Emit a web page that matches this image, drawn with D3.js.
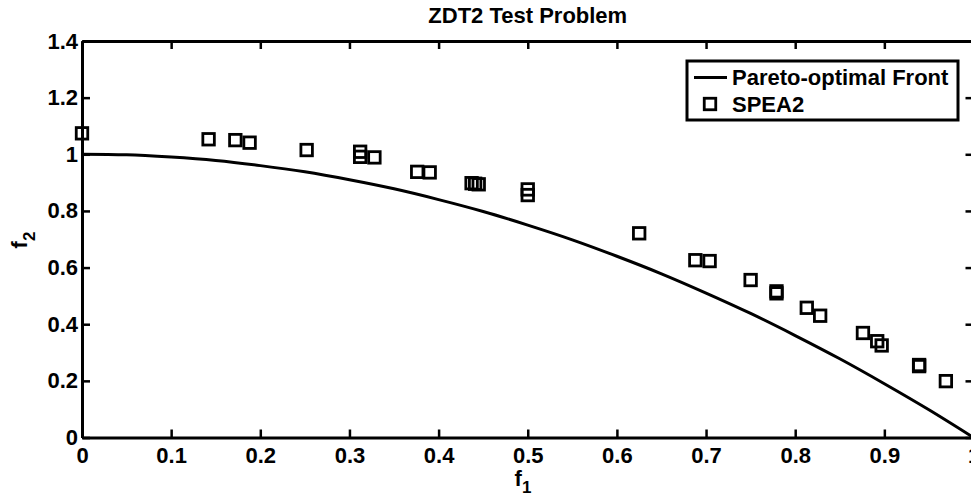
<!DOCTYPE html>
<html>
<head>
<meta charset="utf-8">
<script src="https://cdn.jsdelivr.net/npm/d3@7"></script>
<style>
  body { margin: 0; background: #fff; }
  svg text { font-family: "Liberation Sans", Arial, sans-serif; font-weight: bold; fill: #000; }
</style>
</head>
<body>
<svg id="chart" width="971" height="496"></svg>
<script>
// ZDT2 test problem
var frontF1 = [0, 0.05, 0.1, 0.15, 0.2, 0.25, 0.3, 0.35, 0.4, 0.45, 0.5,
               0.55, 0.6, 0.65, 0.7, 0.75, 0.8, 0.85, 0.9, 0.95, 1];
var frontF2 = [1.00, 0.998, 0.99, 0.978, 0.96, 0.938, 0.91, 0.878, 0.84, 0.798, 0.75,
               0.698, 0.64, 0.578, 0.51, 0.438, 0.36, 0.278, 0.19, 0.098, 0.00];

// SPEA2 solutions
var speaF1 = [0, 0.142, 0.172, 0.188, 0.252, 0.312, 0.312, 0.328, 0.376, 0.390,
              0.437, 0.441, 0.445, 0.500, 0.500, 0.625, 0.688, 0.704, 0.750,
              0.779, 0.779, 0.813, 0.828, 0.876, 0.892, 0.897, 0.939, 0.939, 0.969];
var speaF2 = [1.074, 1.053, 1.050, 1.041, 1.015, 1.009, 0.991, 0.989, 0.938, 0.936,
              0.898, 0.896, 0.894, 0.876, 0.856, 0.721, 0.626, 0.623, 0.556,
              0.516, 0.509, 0.458, 0.430, 0.369, 0.340, 0.325, 0.256, 0.252, 0.199];

var xTicks = [0, 0.1, 0.2, 0.3, 0.4, 0.5, 0.6, 0.7, 0.8, 0.9, 1];
var xTickLabels = ['0', '0.1', '0.2', '0.3', '0.4', '0.5', '0.6', '0.7', '0.8', '0.9', '1'];
var yTicks = [0, 0.2, 0.4, 0.6, 0.8, 1, 1.2, 1.4];
var yTickLabels = ['0', '0.2', '0.4', '0.6', '0.8', '1', '1.2', '1.4'];

var seriesNames = ['Pareto-optimal Front', 'SPEA2'];

//plot box
var plotLeft = 82, plotTop = 41, plotRight = 973.5, plotBottom = 437.5;
var fontSize = 22;

var svg = d3.select('#chart');

var xScale = d3.scaleLinear().domain([0, 1]).range([plotLeft, plotRight]);
var yScale = d3.scaleLinear().domain([0, 1.4]).range([plotBottom, plotTop]);

//axes - ticks point inward like matlab
var xAxis = d3.axisBottom(xScale).tickValues(xTicks)
    .tickFormat(function(d, i) { return xTickLabels[i]; })
    .tickSizeInner(-8).tickSizeOuter(0).tickPadding(10);
var yAxis = d3.axisLeft(yScale).tickValues(yTicks)
    .tickFormat(function(d, i) { return yTickLabels[i]; })
    .tickSizeInner(-8).tickSizeOuter(0).tickPadding(4);
var xAxisTop = d3.axisTop(xScale).tickValues(xTicks).tickFormat('')
    .tickSizeInner(-8).tickSizeOuter(0);
var yAxisRight = d3.axisRight(yScale).tickValues(yTicks).tickFormat('')
    .tickSizeInner(-8).tickSizeOuter(0);

var gx = svg.append('g').attr('transform', 'translate(0,' + plotBottom + ')').call(xAxis);
var gy = svg.append('g').attr('transform', 'translate(' + plotLeft + ',0)').call(yAxis);
var gxt = svg.append('g').attr('transform', 'translate(0,' + plotTop + ')').call(xAxisTop);
var gyr = svg.append('g').attr('transform', 'translate(' + plotRight + ',0)').call(yAxisRight);

[gx, gy, gxt, gyr].forEach(function(g) {
    g.attr('font-size', null).attr('font-family', null);
    g.select('.domain').attr('stroke', '#000').attr('stroke-width', 3);
    g.selectAll('.tick line').attr('stroke', '#000').attr('stroke-width', 2.5);
    g.selectAll('.tick text').attr('font-size', fontSize);
});

//pareto front line
var line = d3.line()
    .x(function(d, i) { return xScale(frontF1[i]); })
    .y(function(d) { return yScale(d); })
    .curve(d3.curveMonotoneX);

svg.append('path')
    .datum(frontF2)
    .attr('d', line)
    .attr('fill', 'none')
    .attr('stroke', '#000')
    .attr('stroke-width', 3);

//SPEA2 squares
var sq = 11.5;
svg.append('g').selectAll('rect')
    .data(speaF2)
    .enter().append('rect')
    .attr('x', function(d, i) { return xScale(speaF1[i]) - sq / 2; })
    .attr('y', function(d) { return yScale(d) - sq / 2; })
    .attr('width', sq).attr('height', sq)
    .attr('fill', 'none')
    .attr('stroke', '#000')
    .attr('stroke-width', 2.8);

//title
svg.append('text')
    .attr('x', (plotLeft + plotRight) / 2).attr('y', 23)
    .attr('text-anchor', 'middle')
    .attr('font-size', fontSize)
    .text('ZDT2 Test Problem');

//x label f1
var xl = svg.append('text')
    .attr('x', 523).attr('y', 486)
    .attr('text-anchor', 'middle')
    .attr('font-size', fontSize);
xl.append('tspan').text('f');
xl.append('tspan').attr('font-size', 17).attr('dy', 7).text('1');

//y label f2
var yl = svg.append('text')
    .attr('transform', 'translate(27,240) rotate(-90)')
    .attr('text-anchor', 'middle')
    .attr('font-size', fontSize);
yl.append('tspan').text('f');
yl.append('tspan').attr('font-size', 17).attr('dy', 8).text('2');

//legend
var lg = svg.append('g');
lg.append('rect')
    .attr('x', 687).attr('y', 61).attr('width', 271).attr('height', 59)
    .attr('fill', '#fff').attr('stroke', '#000').attr('stroke-width', 3);
lg.append('line')
    .attr('x1', 694).attr('x2', 727).attr('y1', 77.5).attr('y2', 77.5)
    .attr('stroke', '#000').attr('stroke-width', 3);
lg.append('rect')
    .attr('x', 710 - sq / 2).attr('y', 104 - sq / 2).attr('width', sq).attr('height', sq)
    .attr('fill', 'none').attr('stroke', '#000').attr('stroke-width', 2.8);
lg.selectAll('text.lab')
    .data(seriesNames)
    .enter().append('text')
    .attr('class', 'lab')
    .attr('x', 732)
    .attr('y', function(d, i) { return 85 + i * 27; })
    .attr('font-size', fontSize)
    .text(function(d) { return d; });
</script>
</body>
</html>
